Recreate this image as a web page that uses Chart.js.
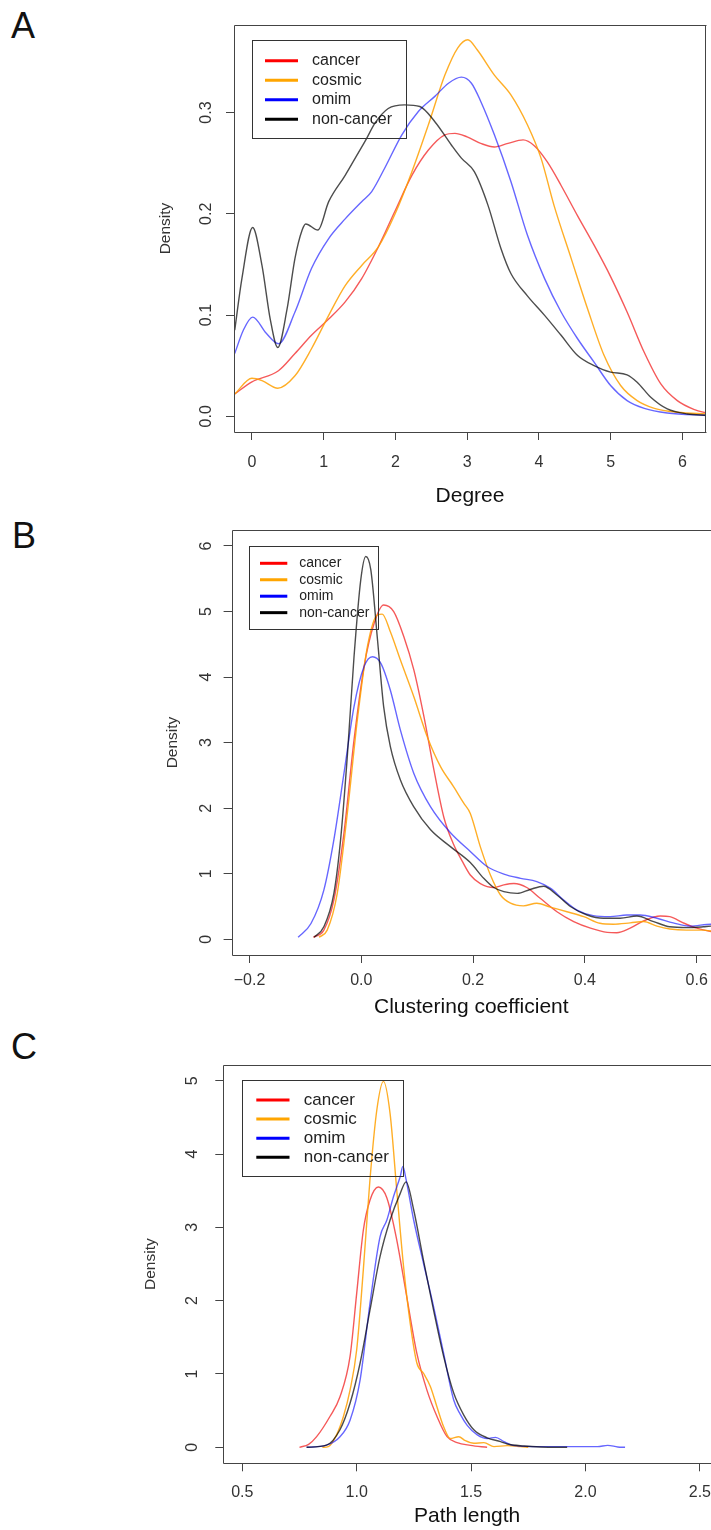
<!DOCTYPE html>
<html><head><meta charset="utf-8">
<script src="https://cdn.jsdelivr.net/npm/chart.js@4.4.1/dist/chart.umd.min.js"></script>
<style>
html,body{margin:0;padding:0;background:#fff;width:711px;height:1530px;overflow:hidden;}
canvas{position:absolute;left:0;}
.lbl{position:absolute;font-family:'Liberation Sans',Arial,sans-serif;font-size:36px;line-height:36px;color:#111;}
</style></head><body>
<div class="lbl" style="left:11px;top:8px">A</div>
<div class="lbl" style="left:12px;top:518px">B</div>
<div class="lbl" style="left:11px;top:1029px">C</div>
<canvas id="cA" width="711" height="510" style="top:0px"></canvas>
<canvas id="cB" width="711" height="510" style="top:510px"></canvas>
<canvas id="cC" width="711" height="510" style="top:1020px"></canvas>
<script>
const FONT = "'Liberation Sans', Arial, Helvetica, sans-serif";
const seriesLabels = ['cancer', 'cosmic', 'omim', 'non-cancer'];
const curveColors = ['rgba(240,0,0,0.65)', 'rgba(255,160,0,0.85)', 'rgba(0,0,255,0.6)', 'rgba(0,0,0,0.7)'];
const legendColors = ['#ff0000', '#ffa500', '#0000ff', '#000000'];

// ---------- Panel A: Degree ----------
const degreeTicks = [0, 1, 2, 3, 4, 5, 6];
const degreeDensityTicks = [0, 0.1, 0.2, 0.3];
const degreeCancerX = [-0.24,0.0,0.37,0.60,0.83,1.07,1.30,1.53,1.76,1.99,2.23,2.46,2.69,2.83,3.0,3.19,3.38,3.57,3.78,3.94,4.12,4.31,4.54,4.77,5.0,5.23,5.47,5.70,5.93,6.17,6.35];
const degreeCancerY = [0.022,0.034,0.045,0.062,0.080,0.096,0.113,0.136,0.167,0.202,0.238,0.263,0.278,0.2795,0.276,0.2696,0.266,0.2696,0.273,0.267,0.251,0.228,0.198,0.169,0.138,0.103,0.063,0.032,0.0155,0.0066,0.003];
const degreeCosmicX = [-0.24,0.0,0.14,0.36,0.60,0.83,1.07,1.30,1.53,1.76,1.99,2.23,2.46,2.69,2.87,3.01,3.14,3.38,3.61,3.84,4.03,4.21,4.45,4.68,4.91,5.14,5.37,5.61,5.93,6.35];
const degreeCosmicY = [0.022,0.0376,0.0353,0.0277,0.040,0.0667,0.0997,0.129,0.149,0.167,0.199,0.2416,0.288,0.337,0.364,0.372,0.362,0.337,0.3175,0.288,0.255,0.2086,0.156,0.106,0.060,0.0304,0.0155,0.0079,0.004,0.0023];
const degreeOmimX = [-0.24,-0.12,0.01,0.2,0.37,0.60,0.83,1.07,1.30,1.53,1.67,1.85,2.09,2.32,2.55,2.74,2.92,3.06,3.19,3.38,3.61,3.84,4.08,4.31,4.54,4.77,5.0,5.23,5.47,5.79,6.35];
const degreeOmimY = [0.062,0.085,0.098,0.082,0.0716,0.103,0.146,0.1756,0.195,0.212,0.222,0.245,0.278,0.301,0.316,0.329,0.335,0.329,0.311,0.278,0.232,0.179,0.136,0.103,0.0766,0.0535,0.0304,0.0155,0.0079,0.0033,0.0007];
const degreeNonCancerX = [-0.24,-0.14,0.01,0.14,0.255,0.36,0.49,0.60,0.70,0.75,0.92,1.07,1.30,1.44,1.58,1.72,1.90,2.13,2.34,2.55,2.78,2.92,3.10,3.29,3.47,3.61,3.84,4.08,4.31,4.54,4.77,5.0,5.23,5.37,5.56,5.79,6.07,6.35];
const degreeNonCancerY = [0.085,0.136,0.1865,0.149,0.096,0.068,0.106,0.156,0.184,0.19,0.184,0.212,0.238,0.255,0.272,0.290,0.304,0.3076,0.306,0.291,0.268,0.255,0.2416,0.2086,0.166,0.141,0.119,0.0997,0.080,0.060,0.050,0.0436,0.041,0.0337,0.0188,0.0073,0.0023,0.001];

// ---------- Panel B: Clustering coefficient ----------
const clusteringTicks = [-0.2, 0.0, 0.2, 0.4, 0.6];
const clusteringDensityTicks = [0, 1, 2, 3, 4, 5, 6];
const clusteringCancerX = [-0.0857,-0.067,-0.049,-0.031,-0.013,0.005,0.023,0.040,0.058,0.076,0.094,0.112,0.130,0.148,0.165,0.18,0.195,0.213,0.237,0.255,0.273,0.296,0.32,0.35,0.38,0.41,0.44,0.457,0.481,0.505,0.535,0.552,0.576,0.60,0.626,0.66];
const clusteringCancerY = [0.03,0.14,0.60,1.62,3.04,4.16,4.82,5.10,5.0,4.62,4.11,3.40,2.58,1.85,1.45,1.2,0.98,0.85,0.79,0.83,0.85,0.79,0.625,0.42,0.27,0.17,0.106,0.10,0.17,0.28,0.355,0.345,0.25,0.17,0.117,0.08];
const clusteringCosmicX = [-0.0756,-0.061,-0.043,-0.025,-0.007,0.011,0.029,0.0375,0.052,0.070,0.094,0.118,0.142,0.165,0.183,0.195,0.213,0.231,0.249,0.267,0.29,0.314,0.338,0.368,0.398,0.427,0.451,0.481,0.505,0.529,0.552,0.582,0.612,0.626,0.66];
const clusteringCosmicY = [0.03,0.14,0.70,1.92,3.35,4.47,4.95,4.96,4.69,4.26,3.70,3.09,2.63,2.33,2.08,1.92,1.41,0.98,0.675,0.55,0.51,0.55,0.49,0.42,0.345,0.244,0.23,0.25,0.27,0.20,0.157,0.14,0.14,0.126,0.11];
const clusteringOmimX = [-0.113,-0.090,-0.067,-0.049,-0.031,-0.013,0.005,0.020,0.035,0.052,0.070,0.094,0.124,0.160,0.195,0.225,0.255,0.285,0.314,0.338,0.362,0.386,0.415,0.445,0.475,0.499,0.529,0.558,0.588,0.626,0.66];
const clusteringOmimY = [0.03,0.24,0.75,1.52,2.53,3.55,4.16,4.31,4.21,3.80,3.19,2.53,2.02,1.62,1.34,1.11,0.995,0.93,0.88,0.78,0.60,0.446,0.36,0.345,0.37,0.37,0.32,0.25,0.20,0.23,0.22];
const clusteringNonCancerX = [-0.0845,-0.067,-0.049,-0.037,-0.025,-0.013,-0.001,0.008,0.017,0.029,0.040,0.052,0.070,0.094,0.124,0.160,0.195,0.219,0.237,0.255,0.279,0.302,0.326,0.35,0.374,0.404,0.433,0.463,0.493,0.523,0.552,0.582,0.612,0.626,0.66];
const clusteringNonCancerY = [0.03,0.19,0.70,1.52,2.79,4.31,5.48,5.84,5.64,4.57,3.55,2.94,2.43,2.02,1.67,1.41,1.17,0.93,0.79,0.727,0.70,0.76,0.81,0.676,0.50,0.37,0.32,0.32,0.355,0.27,0.19,0.178,0.19,0.20,0.2];

// ---------- Panel C: Path length ----------
const pathTicks = [0.5, 1.0, 1.5, 2.0, 2.5];
const pathDensityTicks = [0, 1, 2, 3, 4, 5];
const pathCancerX = [0.75,0.79,0.825,0.883,0.927,0.971,1.0,1.029,1.058,1.095,1.132,1.175,1.219,1.263,1.307,1.351,1.395,1.439,1.497,1.57];
const pathCancerY = [0.0,0.04,0.145,0.42,0.69,1.24,2.10,2.96,3.37,3.55,3.40,2.83,2.05,1.28,0.78,0.42,0.145,0.064,0.027,0.0];
const pathCosmicX = [0.85,0.876,0.912,0.942,0.971,1.0,1.029,1.058,1.088,1.117,1.146,1.175,1.205,1.234,1.263,1.292,1.322,1.351,1.38,1.409,1.446,1.475,1.512,1.556,1.60,1.658,1.716,1.75];
const pathCosmicY = [0.0,0.01,0.17,0.42,0.78,1.33,2.42,3.65,4.60,4.99,4.55,3.51,2.46,1.69,1.15,1.01,0.83,0.55,0.28,0.12,0.145,0.09,0.055,0.064,0.01,0.023,0.01,0.0];
const pathOmimX = [0.781,0.868,0.927,0.971,1.015,1.058,1.102,1.132,1.161,1.19,1.202,1.216,1.249,1.292,1.336,1.38,1.424,1.453,1.483,1.527,1.571,1.607,1.644,1.688,1.805,1.951,2.053,2.097,2.141,2.173];
const pathOmimY = [0.0,0.03,0.145,0.37,0.92,1.96,2.87,3.10,3.42,3.69,3.83,3.65,3.10,2.51,1.92,1.28,0.645,0.45,0.30,0.17,0.12,0.136,0.077,0.023,0.01,0.01,0.01,0.027,0.005,0.0];
const pathNonCancerX = [0.781,0.868,0.927,0.971,1.015,1.058,1.102,1.146,1.19,1.216,1.249,1.292,1.336,1.38,1.424,1.468,1.512,1.57,1.629,1.658,1.731,1.805,1.92];
const pathNonCancerY = [0.0,0.03,0.24,0.60,1.15,1.87,2.60,3.10,3.46,3.62,3.24,2.55,1.87,1.24,0.74,0.44,0.24,0.13,0.077,0.045,0.018,0.005,0.0];

// ---------- plugins ----------
const boxPlugin = {
  id: 'rbox',
  afterDatasetsDraw(chart, args, opts) {
    const {ctx, chartArea: a} = chart;
    ctx.save();
    ctx.strokeStyle = '#444';
    ctx.lineWidth = 1;
    const l = Math.round(a.left) + 0.5, t = Math.round(a.top) + 0.5;
    const r = Math.round(a.right) - 0.5, b = Math.round(a.bottom) + 0.5;
    ctx.beginPath();
    ctx.moveTo(r + 1, t); ctx.lineTo(l, t); ctx.lineTo(l, b); ctx.lineTo(r + 1, b);
    if (opts.right) { ctx.moveTo(r, t); ctx.lineTo(r, b); }
    ctx.stroke();
    ctx.restore();
  }
};
const legendPlugin = {
  id: 'rlegend',
  afterDatasetsDraw(chart, args, o) {
    const ctx = chart.ctx;
    ctx.save();
    ctx.strokeStyle = '#333';
    ctx.lineWidth = 1;
    ctx.strokeRect(Math.round(o.box[0]) + 0.5, Math.round(o.box[1]) + 0.5, Math.round(o.box[2]), Math.round(o.box[3]));
    ctx.font = o.size + 'px ' + FONT;
    ctx.textBaseline = 'middle';
    ctx.textAlign = 'left';
    chart.data.datasets.forEach((ds, i) => {
      const y = o.row0 + i * o.step;
      ctx.strokeStyle = ds.legendColor;
      ctx.lineWidth = 3;
      ctx.beginPath(); ctx.moveTo(o.line[0], y); ctx.lineTo(o.line[1], y); ctx.stroke();
      ctx.fillStyle = '#222';
      ctx.fillText(ds.label, o.textX, y);
    });
    ctx.restore();
  }
};

function panel(id, p) {
  const datasets = p.series.map((s, i) => ({
    label: seriesLabels[i],
    data: s[0].map((x, k) => ({x: x, y: s[1][k]})),
    showLine: true, borderColor: curveColors[i], borderWidth: 1.4,
    pointRadius: 0, fill: false, cubicInterpolationMode: 'monotone',
    order: 3 - i, legendColor: legendColors[i]
  }));
  return new Chart(document.getElementById(id), {
    type: 'scatter',
    data: {datasets},
    options: {
      animation: false, responsive: false, events: [],
      layout: {autoPadding: false, padding: {top: p.T, right: p.R, left: 0, bottom: 0}},
      plugins: {legend: {display: false}, tooltip: {enabled: false}, rbox: {right: p.boxRight}, rlegend: p.legend},
      scales: {
        x: {
          type: 'linear', position: 'bottom', min: p.xMin, max: p.xMax,
          afterBuildTicks: s => { s.ticks = p.xTicks.map(v => ({value: v})); },
          afterFit: s => { s.height = p.H; s.paddingLeft = 0; s.paddingRight = 0; },
          ticks: {autoSkip: false, minRotation: 0, maxRotation: 0, padding: p.xPad, color: '#333', font: {family: FONT, size: 16}, callback: p.xFmt},
          grid: {drawOnChartArea: false, drawTicks: true, tickLength: 8, color: '#444', lineWidth: 1},
          border: {display: false},
          title: {display: true, text: p.xTitle, color: '#111', font: {family: FONT, size: 21}, padding: {top: 0, bottom: p.xTitlePad}}
        },
        y: {
          type: 'linear', position: 'left', min: p.yMin, max: p.yMax,
          afterBuildTicks: s => { s.ticks = p.yTicks.map(v => ({value: v})); },
          afterFit: s => { s.width = p.W; s.paddingTop = 0; s.paddingBottom = 0; },
          ticks: {autoSkip: false, minRotation: 90, maxRotation: 90, crossAlign: 'center', padding: p.yPad, color: '#333', font: {family: FONT, size: 16}, callback: p.yFmt},
          grid: {drawOnChartArea: false, drawTicks: true, tickLength: 8, color: '#444', lineWidth: 1},
          border: {display: false},
          title: {display: true, text: 'Density', color: '#333', font: {family: FONT, size: 15.5}, padding: {top: p.yTitlePad, bottom: 0}}
        }
      }
    },
    plugins: [boxPlugin, legendPlugin]
  });
}

const minusFmt = v => (v < 0 ? '\u2212' : '') + Math.abs(v).toFixed(1);

panel('cA', {
  series: [[degreeCancerX, degreeCancerY], [degreeCosmicX, degreeCosmicY], [degreeOmimX, degreeOmimY], [degreeNonCancerX, degreeNonCancerY]],
  W: 234, T: 25, R: 5, H: 78, xMin: -0.25, xMax: 6.33, yMin: -0.0155, yMax: 0.3865,
  xTicks: degreeTicks, yTicks: degreeDensityTicks,
  xFmt: v => String(v), yFmt: v => v.toFixed(1),
  xPad: 12.9, yPad: 8.6, xTitle: 'Degree', xTitlePad: 1.1, yTitlePad: 156.7, boxRight: true,
  legend: {box: [252, 40, 154, 98], row0: 60.7, step: 19.5, line: [265, 298], textX: 312, size: 16}
});
panel('cB', {
  series: [[clusteringCancerX, clusteringCancerY], [clusteringCosmicX, clusteringCosmicY], [clusteringOmimX, clusteringOmimY], [clusteringNonCancerX, clusteringNonCancerY]],
  W: 231.6, T: 20, R: 0, H: 65, xMin: -0.232, xMax: 0.6256, yMin: -0.24, yMax: 6.244,
  xTicks: clusteringTicks, yTicks: clusteringDensityTicks,
  xFmt: minusFmt, yFmt: v => String(v),
  xPad: 7.5, yPad: 12.5, xTitle: 'Clustering coefficient', xTitlePad: 0, yTitlePad: 163.4, boxRight: false,
  legend: {box: [249.3, 35.7, 129, 83.3], row0: 53.3, step: 16.45, line: [260, 287.3], textX: 299.3, size: 14}
});
panel('cC', {
  series: [[pathCancerX, pathCancerY], [pathCosmicX, pathCosmicY], [pathOmimX, pathOmimY], [pathNonCancerX, pathNonCancerY]],
  W: 223.3, T: 45, R: 0, H: 66.7, xMin: 0.417, xMax: 2.5486, yMin: -0.218, yMax: 5.214,
  xTicks: pathTicks, yTicks: pathDensityTicks,
  xFmt: v => v.toFixed(1), yFmt: v => String(v),
  xPad: 11.6, yPad: 18, xTitle: 'Path length', xTitlePad: 1.4, yTitlePad: 141.7, boxRight: false,
  legend: {box: [242.3, 60, 161, 96], row0: 80, step: 19.1, line: [256.3, 289.5], textX: 303.8, size: 17}
});
</script>
</body></html>
